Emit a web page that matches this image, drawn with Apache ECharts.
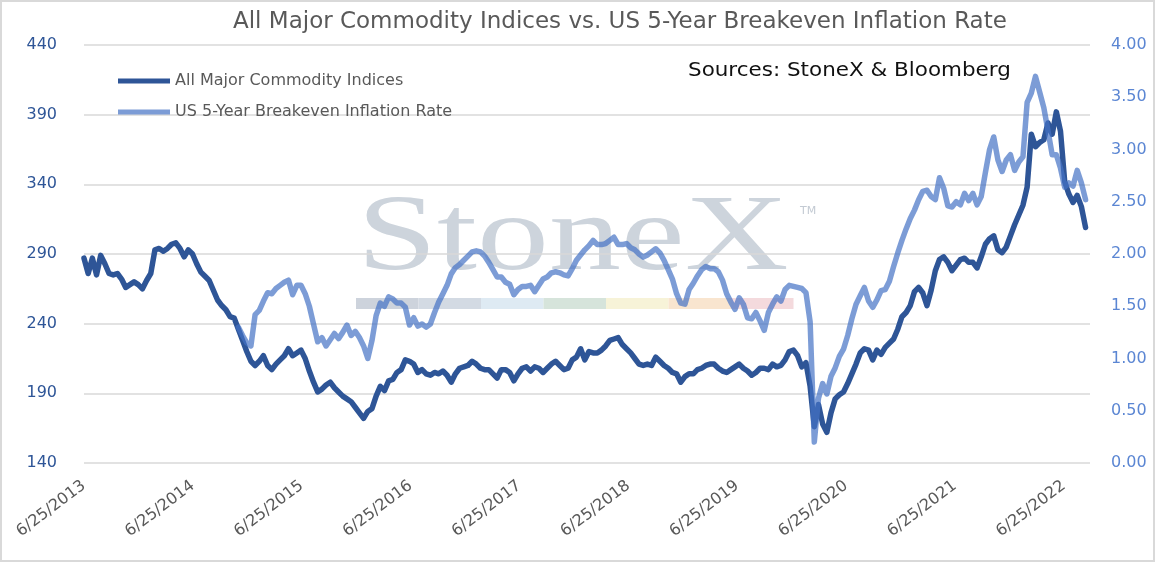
<!DOCTYPE html>
<html>
<head>
<meta charset="UTF-8">
<title>Commodity Indices vs Breakeven Inflation</title>
<script src="https://cdn.jsdelivr.net/npm/echarts@6/dist/echarts.min.js"></script>
<style>
  html, body { margin: 0; padding: 0; background: #fff; }
  #chart { width: 1155px; height: 562px; }
</style>
</head>
<body>
<div id="chart"></div>
<script>
// sampled every 14 days starting from the first date
var startDate = '2013-06-25';
var stepDays = 14;

var commodityName = 'All Major Commodity Indices';
var breakevenName = 'US 5-Year Breakeven Inflation Rate';

var commodity = [
  287, 276, 287, 275, 289, 283, 276, 275, 276, 272,
  266, 268, 270, 268, 265, 271, 276, 293, 294, 292,
  294, 297, 298, 294, 288, 293, 290, 283, 277, 274,
  271, 264, 257, 253, 250, 245, 244, 236, 228, 220,
  213, 210, 213, 217, 210, 207, 211, 214, 217, 222,
  217, 219, 221, 215, 206, 198, 191, 193, 196, 198,
  194, 191, 188, 186, 184, 180, 176, 172, 177, 179,
  188, 195, 192, 199, 200, 205, 207, 214, 213, 211,
  205, 207, 204, 203, 205, 204, 206, 203, 198, 204,
  208, 209, 210, 213, 211, 208, 207, 207, 204, 201,
  207, 207, 205, 199, 204, 208, 209, 206, 209, 208,
  205, 208, 211, 213, 210, 207, 208, 214, 216, 222,
  214, 220, 219, 219, 221, 224, 228, 229, 230, 225,
  222, 219, 215, 211, 210, 211, 210, 216, 213, 210,
  208, 205, 204, 198, 202, 204, 204, 207, 208, 210,
  211, 211, 208, 206, 205, 207, 209, 211, 208, 206,
  203, 205, 208, 208, 207, 211, 209, 210, 214, 220,
  221, 217, 209, 212, 195, 166, 182, 168, 162, 176,
  186, 189, 191, 197, 204, 211, 219, 222, 221, 214,
  221, 218, 223, 226, 229, 236, 245, 248, 253, 263,
  266, 262, 253, 264, 278, 286, 288, 284, 278, 282,
  286, 287, 284, 284, 280, 288, 297, 301, 303, 293,
  291, 295, 303, 311, 318, 325, 338, 376, 367, 370,
  372, 384, 376, 392, 378, 342, 333, 327, 332, 324, 309
];

// breakeven series begins later than the commodity series
var breakevenStartIndex = 37;
var breakeven = [
  1.30, 1.22, 1.15,
  1.12, 1.42, 1.46, 1.55, 1.63, 1.62, 1.67, 1.70, 1.73, 1.75,
  1.61, 1.70, 1.70, 1.62, 1.50, 1.33, 1.16, 1.20, 1.12, 1.18,
  1.24, 1.19, 1.25, 1.32, 1.22, 1.26, 1.20, 1.12, 1.00, 1.17,
  1.41, 1.53, 1.50, 1.59, 1.57, 1.53, 1.53, 1.49, 1.32, 1.39,
  1.31, 1.33, 1.30, 1.33, 1.44, 1.54, 1.62, 1.70, 1.81, 1.87,
  1.90, 1.94, 1.98, 2.02, 2.03, 2.02, 1.98, 1.92, 1.85, 1.78,
  1.78, 1.73, 1.71, 1.61, 1.66, 1.69, 1.69, 1.70, 1.64, 1.70,
  1.76, 1.78, 1.82, 1.83, 1.82, 1.80, 1.79, 1.86, 1.94, 1.99,
  2.04, 2.08, 2.13, 2.09, 2.09, 2.10, 2.13, 2.16, 2.09, 2.09,
  2.10, 2.06, 2.04, 2.00, 1.97, 1.99, 2.02, 2.05, 2.01, 1.94,
  1.85, 1.76, 1.62, 1.53, 1.52, 1.66, 1.72, 1.79, 1.85, 1.88,
  1.86, 1.86, 1.83, 1.75, 1.62, 1.54, 1.47, 1.58, 1.52, 1.39,
  1.38, 1.44, 1.36, 1.27, 1.44, 1.52, 1.59, 1.55, 1.66, 1.70,
  1.69, 1.68, 1.67, 1.63, 1.35, 0.20, 0.62, 0.76, 0.66, 0.83,
  0.91, 1.02, 1.09, 1.22, 1.38, 1.52, 1.60, 1.68, 1.55, 1.49,
  1.56, 1.65, 1.66, 1.74, 1.88, 2.01, 2.13, 2.24, 2.34, 2.42,
  2.52, 2.60, 2.61, 2.55, 2.52, 2.73, 2.63, 2.46, 2.45, 2.50,
  2.47, 2.58, 2.51, 2.58, 2.47, 2.55, 2.78, 3.00, 3.12, 2.90,
  2.79, 2.90, 2.95, 2.80, 2.88, 2.93, 3.45, 3.54, 3.70, 3.55,
  3.40, 3.18, 2.95, 2.95, 2.82, 2.64, 2.68, 2.65, 2.80, 2.68, 2.52
];

var leftTicks = [140, 440, 50];
var rightTicks = [0, 4, 0.5];
var tickYears = 9; // labels at 6/25 of 2013..2022

var dayMs = 86400000;
var yearDays = 365.25;
var t0 = Date.parse(startDate);

// date string of sample i
var dates = commodity.map(function (v, i) {
  var d = new Date(t0 + i * stepDays * dayMs);
  return (d.getUTCMonth() + 1) + '/' + d.getUTCDate() + '/' + d.getUTCFullYear();
});

// position on the x axis, in years after the start date
function yearsFromStart(i) {
  return i * stepDays / yearDays;
}

var commodityData = commodity.map(function (v, i) {
  return [yearsFromStart(i), v, dates[i]];
});
var breakevenData = breakeven.map(function (v, j) {
  var i = j + breakevenStartIndex;
  return [yearsFromStart(i), v, dates[i]];
});

var darkBlue = '#2E5597';
var midBlue = '#4472C4';
var barColors = ['#CDD3DC', '#D3DAE3', '#DEEAF3', '#D6E4DB', '#F7F3D8', '#F9E5CF', '#F4DADD'];

var watermark = [
  {
    type: 'text', x: 357, y: 186, scaleX: 1.32, z: -10,
    style: { text: 'StoneX', font: '109px "Liberation Serif"', fill: '#CDD4DC' }
  },
  {
    type: 'text', x: 800, y: 206, z: -10,
    style: { text: 'TM', font: '11px "DejaVu Sans"', fill: '#C3CAD3' }
  }
];
barColors.forEach(function (c, i) {
  watermark.push({
    type: 'rect', z: -10,
    shape: { x: 356 + i * 62.5, y: 298, width: 62.5, height: 11 },
    style: { fill: c }
  });
});

var chart = echarts.init(document.getElementById('chart'));
chart.setOption({
  animation: false,
  backgroundColor: '#fff',
  title: {
    text: 'All Major Commodity Indices vs. US 5-Year Breakeven Inflation Rate',
    left: 228,
    top: 6,
    textStyle: { fontFamily: 'DejaVu Sans', fontSize: 23, fontWeight: 'normal', color: '#595959' }
  },
  legend: {
    orient: 'vertical',
    left: 113,
    top: 68,
    itemWidth: 52,
    itemHeight: 5,
    itemGap: 15,
    icon: 'rect',
    textStyle: { fontFamily: 'DejaVu Sans', fontSize: 16, color: '#595959' },
    data: [commodityName, breakevenName]
  },
  graphic: watermark.concat([
    {
      type: 'text', x: 688, y: 62, scaleX: 1.13,
      style: { text: 'Sources: StoneX & Bloomberg', font: '19px "DejaVu Sans"', fill: '#111' }
    },
    {
      type: 'rect', z: 100,
      shape: { x: 1, y: 1, width: 1153, height: 560 },
      style: { fill: 'none', stroke: '#D9D9D9', lineWidth: 2 }
    }
  ]),
  grid: { left: 84, right: 65, top: 45, bottom: 99 },
  xAxis: {
    type: 'value',
    min: 0,
    max: 9.24,
    interval: 1,
    axisLine: { show: false },
    axisTick: { show: false },
    splitLine: { show: false },
    axisLabel: {
      rotate: 37,
      margin: 21,
      showMaxLabel: false,
      fontFamily: 'DejaVu Sans',
      fontSize: 16,
      color: '#595959',
      formatter: function (v) {
        var y = Math.round(v);
        return y <= tickYears ? '6/25/' + (2013 + y) : '';
      }
    }
  },
  yAxis: [
    {
      type: 'value',
      min: leftTicks[0],
      max: leftTicks[1],
      interval: leftTicks[2],
      axisLine: { show: false },
      axisTick: { show: false },
      axisLabel: { margin: 27, fontFamily: 'DejaVu Sans', fontSize: 16, color: darkBlue },
      splitLine: { lineStyle: { color: '#D9D9D9', width: 1.5 } }
    },
    {
      type: 'value',
      min: rightTicks[0],
      max: rightTicks[1],
      interval: rightTicks[2],
      axisLine: { show: false },
      axisTick: { show: false },
      splitLine: { show: false },
      axisLabel: {
        margin: 21, fontFamily: 'DejaVu Sans', fontSize: 16, color: '#5B86D3',
        formatter: function (v) { return v.toFixed(2); }
      }
    }
  ],
  series: [
    {
      name: commodityName,
      type: 'line',
      data: commodityData,
      showSymbol: false,
      color: darkBlue,
      lineStyle: { width: 5.5, color: darkBlue, join: 'round', cap: 'round' }
    },
    {
      name: breakevenName,
      type: 'line',
      yAxisIndex: 1,
      data: breakevenData,
      showSymbol: false,
      color: midBlue,
      itemStyle: { color: midBlue, opacity: 0.7 },
      lineStyle: { width: 5.5, color: midBlue, opacity: 0.7, join: 'round', cap: 'round' }
    }
  ]
});
</script>
</body>
</html>
